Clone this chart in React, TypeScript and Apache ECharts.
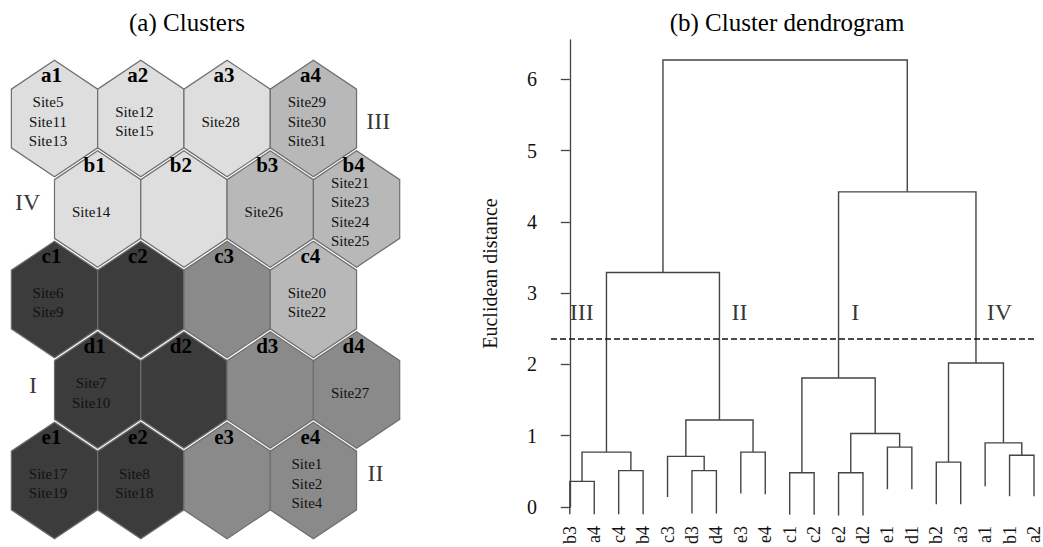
import React, { useEffect, useRef } from "react";
import * as echarts from "echarts";

// ---------- SOM map (a) ----------
const hexNames = ["a1", "a2", "a3", "a4", "b1", "b2", "b3", "b4", "c1", "c2", "c3", "c4", "d1", "d2", "d3", "d4", "e1", "e2", "e3", "e4"];
const hexClusters = ["IV", "IV", "IV", "III", "IV", "IV", "III", "III", "I", "I", "II", "III", "I", "I", "II", "II", "I", "I", "II", "II"];
const hexSites = [
  ["Site5", "Site11", "Site13"],
  ["Site12", "Site15"],
  ["Site28"],
  ["Site29", "Site30", "Site31"],
  ["Site14"],
  [],
  ["Site26"],
  ["Site21", "Site23", "Site24", "Site25"],
  ["Site6", "Site9"],
  [],
  [],
  ["Site20", "Site22"],
  ["Site7", "Site10"],
  [],
  [],
  ["Site27"],
  ["Site17", "Site19"],
  ["Site8", "Site18"],
  [],
  ["Site1", "Site2", "Site4"],
];
const clusterNames = ["I", "II", "III", "IV"];
const clusterColors = ["#3c3c3c", "#8a8a8a", "#b8b8b8", "#dedede"];
// cluster labels on the map: [x (column units), y (row units), text]
const mapClusterLabels: [number, number, string][] = [
  [3.75, 0.03, "III"],
  [-0.31, 0.92, "IV"],
  [-0.25, 2.94, "I"],
  [3.72, 3.92, "II"],
];

// ---------- Dendrogram (b) ----------
const leafNames = ["b3", "a4", "c4", "b4", "c3", "d3", "d4", "e3", "e4", "c1", "c2", "e2", "d2", "e1", "d1", "b2", "a3", "a1", "b1", "a2"];
const leafBottoms = [-0.1, -0.1, -0.1, -0.1, 0.14, -0.09, -0.09, 0.19, 0.18, -0.11, -0.11, -0.12, -0.12, 0.25, 0.25, 0.04, 0.04, 0.29, 0.15, 0.15];
// R-style merge matrix: negative = leaf (1-based), positive = earlier merge (1-based)
const mergeLeft = [-1, -3, -6, -10, -12, -16, -19, -5, 1, -8, -14, -18, 5, 8, 4, 6, 9, 15, 17];
const mergeRight = [-2, -4, -7, -11, -13, -17, -20, 3, 2, -9, -15, 7, 11, 10, 13, 12, 14, 16, 18];
const mergeHeights = [0.36, 0.51, 0.51, 0.48, 0.48, 0.63, 0.725, 0.71, 0.77, 0.77, 0.84, 0.9, 1.03, 1.22, 1.81, 2.02, 3.29, 4.42, 6.27];
const cutHeight = 2.36;
const yTicks = [0, 1, 2, 3, 4, 5, 6];
const dendroClusterLabels: [number, number, string][] = [
  [0.49, 2.73, "III"],
  [6.95, 2.73, "II"],
  [11.68, 2.73, "I"],
  [17.58, 2.73, "IV"],
];

const SERIF = "'Liberation Serif', 'Times New Roman', serif";

function buildDendroLines() {
  const mergeX: number[] = [];
  const nodeX = (r: number) => (r < 0 ? -r - 1 : mergeX[r - 1]);
  const nodeY = (r: number) => (r < 0 ? leafBottoms[-r - 1] : mergeHeights[r - 1]);
  const data: any[] = [];
  mergeHeights.forEach((h, i) => {
    const l = mergeLeft[i];
    const r = mergeRight[i];
    const xl = nodeX(l);
    const xr = nodeX(r);
    mergeX.push((xl + xr) / 2);
    data.push({
      coords: [
        [xl, nodeY(l)],
        [xl, h],
        [xr, h],
        [xr, nodeY(r)],
      ],
    });
  });
  return data;
}

export default function App() {
  const ref = useRef<HTMLDivElement>(null);
  useEffect(() => {
    if (!ref.current) return;
    const chart = echarts.init(ref.current, null, { renderer: "svg" });

    const hexData = hexNames.map((n, i) => {
      const row = n.charCodeAt(0) - 97;
      const col = Number(n.slice(1)) - 1;
      return [col + (row % 2) * 0.5, row, i];
    });

    const option: any = {
      animation: false,
      backgroundColor: "#ffffff",
      graphic: [
        {
          type: "text",
          x: 187,
          y: 22,
          style: { text: "(a) Clusters", font: `25px ${SERIF}`, fill: "#000", textAlign: "center", textVerticalAlign: "middle" },
        },
        {
          type: "text",
          x: 787,
          y: 22,
          style: { text: "(b) Cluster dendrogram", font: `25px ${SERIF}`, fill: "#000", textAlign: "center", textVerticalAlign: "middle" },
        },
      ],
      grid: [
        { left: 11.35, top: 73.25, width: 388.35, height: 452.5 },
        { left: 551, right: 0.5, top: 40, bottom: 37.7 },
      ],
      xAxis: [
        { gridIndex: 0, type: "value", min: -0.5, max: 4, show: false },
        {
          gridIndex: 1,
          type: "value",
          min: -0.77,
          max: 19.1,
          axisLine: { show: false },
          axisTick: { show: false },
          splitLine: { show: false },
          axisLabel: {
            customValues: leafNames.map((_, i) => i),
            formatter: (v: number) => leafNames[Math.round(v)] ?? "",
            rotate: 90,
            margin: 19,
            fontSize: 18,
            fontFamily: SERIF,
            color: "#111",
          },
        },
      ],
      yAxis: [
        { gridIndex: 0, type: "value", min: -0.5, max: 4.5, inverse: true, show: false },
        {
          gridIndex: 1,
          type: "value",
          min: 0,
          max: 6.55,
          name: "Euclidean distance",
          nameLocation: "middle",
          nameGap: 51,
          nameTextStyle: { fontSize: 20, fontFamily: SERIF, color: "#111" },
          axisLine: { show: true, lineStyle: { color: "#444", width: 1.3 } },
          axisTick: { show: true, customValues: yTicks, length: 9, lineStyle: { color: "#444", width: 1.3 } },
          axisLabel: { customValues: yTicks, fontSize: 20, fontFamily: SERIF, color: "#111", margin: 14 },
          splitLine: { show: false },
        },
      ],
      series: [
        {
          type: "custom",
          xAxisIndex: 0,
          yAxisIndex: 0,
          data: hexData,
          encode: { x: 0, y: 1 },
          clip: false,
          renderItem: (params: any, api: any) => {
            const idx = api.value(2);
            const c = api.coord([api.value(0), api.value(1)]);
            const sz = api.size([1, 1]);
            const hw = sz[0] / 2;
            const s = sz[1];
            const tip = s * 0.676 - 3;
            const side = s * 0.324;
            const cx = c[0];
            const cy = c[1];
            const fill = clusterColors[clusterNames.indexOf(hexClusters[idx])];
            const sites = hexSites[idx];
            const lh = 19.3;
            const startY = cy + 3 - ((sites.length - 1) * lh) / 2;
            return {
              type: "group",
              children: [
                {
                  type: "polygon",
                  shape: {
                    points: [
                      [cx, cy - tip],
                      [cx + hw, cy - side],
                      [cx + hw, cy + side],
                      [cx, cy + tip],
                      [cx - hw, cy + side],
                      [cx - hw, cy - side],
                    ],
                  },
                  style: { fill, stroke: "#6e6e6e", lineWidth: 1.2 },
                },
                {
                  type: "text",
                  x: cx - 3,
                  y: cy - 44,
                  style: {
                    text: hexNames[idx],
                    font: `bold 21px ${SERIF}`,
                    fill: "#000",
                    textAlign: "center",
                    textVerticalAlign: "middle",
                  },
                },
                ...sites.map((t, k) => ({
                  type: "text",
                  x: cx - 6.5,
                  y: startY + k * lh,
                  style: {
                    text: t,
                    font: `15px ${SERIF}`,
                    fill: "#111",
                    textAlign: "center",
                    textVerticalAlign: "middle",
                  },
                })),
              ],
            };
          },
        },
        {
          type: "scatter",
          xAxisIndex: 0,
          yAxisIndex: 0,
          symbolSize: 0,
          silent: true,
          data: mapClusterLabels,
          label: {
            show: true,
            position: "inside",
            formatter: (p: any) => p.data[2],
            fontSize: 24,
            fontFamily: SERIF,
            color: "#000",
          },
        },
        {
          type: "lines",
          coordinateSystem: "cartesian2d",
          xAxisIndex: 1,
          yAxisIndex: 1,
          polyline: true,
          clip: false,
          silent: true,
          data: buildDendroLines(),
          lineStyle: { color: "#444", width: 1.4, opacity: 1 },
        },
        {
          type: "scatter",
          xAxisIndex: 1,
          yAxisIndex: 1,
          symbolSize: 0,
          silent: true,
          data: dendroClusterLabels,
          label: {
            show: true,
            position: "inside",
            formatter: (p: any) => p.data[2],
            fontSize: 24,
            fontFamily: SERIF,
            color: "#000",
          },
          markLine: {
            silent: true,
            symbol: "none",
            label: { show: false },
            lineStyle: { color: "#111", width: 1.7, type: [6, 3] },
            data: [{ yAxis: cutHeight }],
          },
        },
      ],
    };
    chart.setOption(option);
    return () => chart.dispose();
  }, []);

  return (
    <div
      ref={ref}
      style={{ position: "fixed", left: 0, top: 0, width: 1043, height: 547, background: "#fff" }}
    />
  );
}
